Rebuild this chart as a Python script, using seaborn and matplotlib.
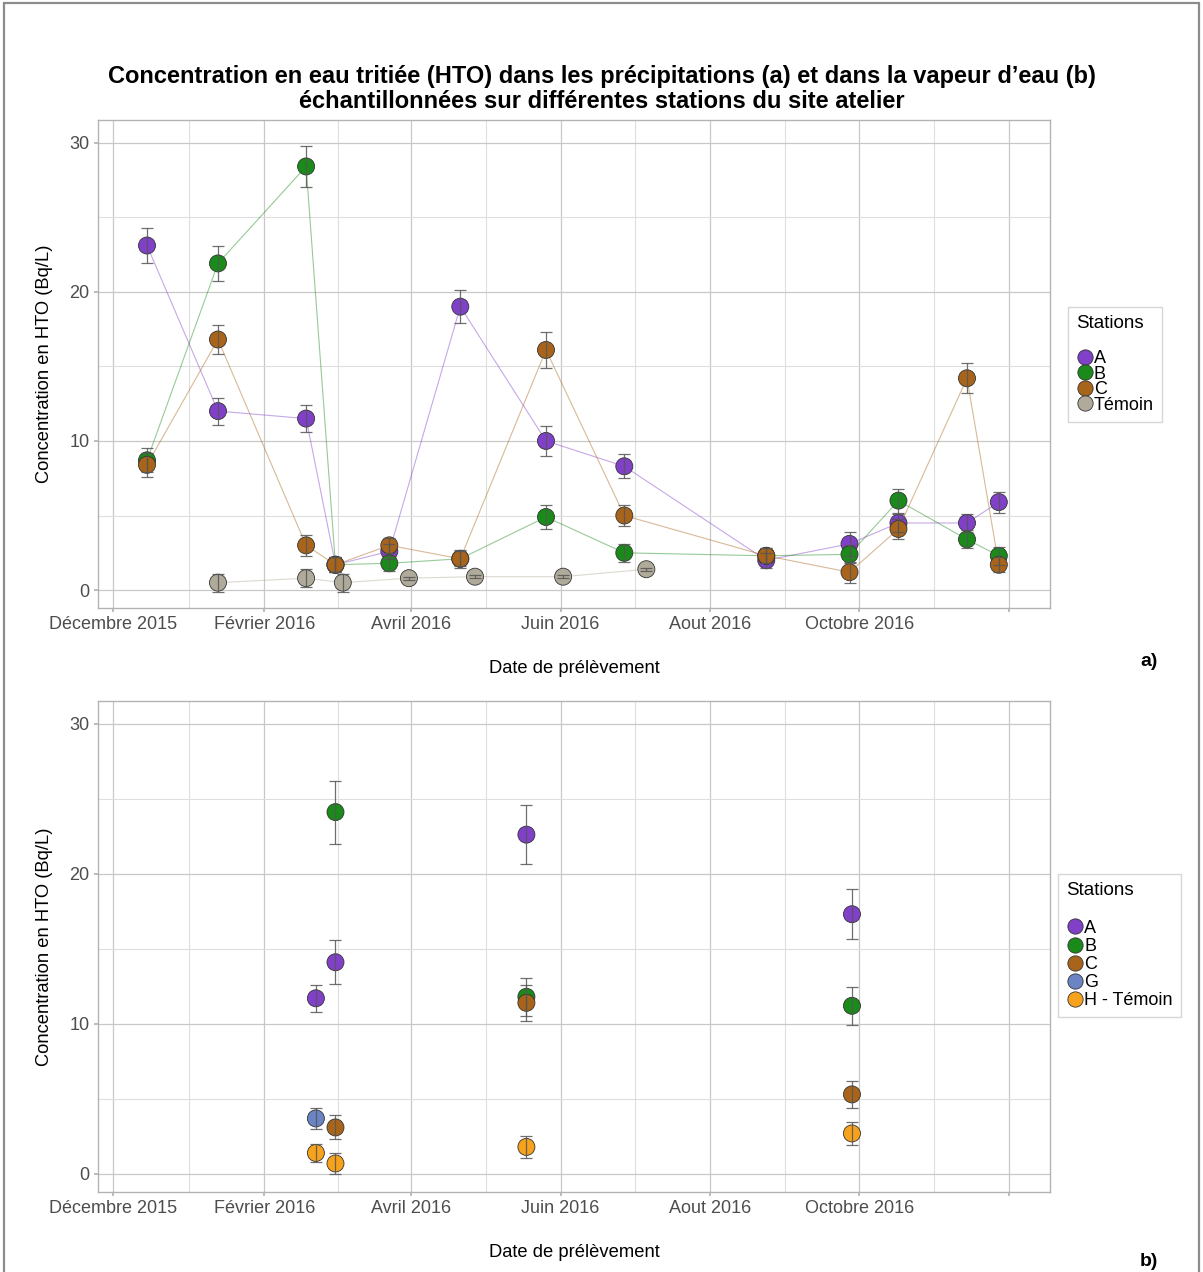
import pandas as pd
import seaborn as sns
import matplotlib.pyplot as plt
from matplotlib.patches import Rectangle

# --- données (a) précipitations ---
dates_a = ["2015-12-15", "2016-01-13", "2016-02-18", "2016-03-01", "2016-03-23",
           "2016-04-21", "2016-05-26", "2016-06-27", "2016-08-24", "2016-09-27",
           "2016-10-17", "2016-11-14", "2016-11-27"]
a_A = [23.1, 12.0, 11.5, 1.7, 2.6, 19.0, 10.0, 8.3, 2.0, 3.1, 4.5, 4.5, 5.9]
a_A_err = [1.2, 0.9, 0.9, 0.5, 0.5, 1.1, 1.0, 0.8, 0.5, 0.8, 0.6, 0.6, 0.7]
a_B = [8.7, 21.9, 28.4, 1.7, 1.8, 2.1, 4.9, 2.5, 2.3, 2.4, 6.0, 3.4, 2.3]
a_B_err = [0.8, 1.2, 1.4, 0.5, 0.5, 0.6, 0.8, 0.6, 0.5, 0.6, 0.8, 0.6, 0.6]
a_C = [8.4, 16.8, 3.0, 1.7, 3.0, 2.1, 16.1, 5.0, 2.3, 1.2, 4.1, 14.2, 1.7]
a_C_err = [0.8, 1.0, 0.7, 0.5, 0.5, 0.5, 1.2, 0.7, 0.5, 0.7, 0.7, 1.0, 0.5]
dates_t = ["2016-01-13", "2016-02-18", "2016-03-04", "2016-03-31", "2016-04-27",
           "2016-06-02", "2016-07-06"]
a_T = [0.5, 0.8, 0.5, 0.8, 0.9, 0.9, 1.4]
a_T_err = [0.6, 0.6, 0.6, 0.1, 0.1, 0.1, 0.1]

# --- données (b) vapeur d'eau ---
b_station = ["A", "A", "B", "G", "C", "H - Témoin", "H - Témoin",
             "A", "B", "C", "H - Témoin",
             "A", "B", "C", "H - Témoin"]
b_dates = ["2016-02-22", "2016-03-01", "2016-03-01", "2016-02-22", "2016-03-01", "2016-02-22", "2016-03-01",
           "2016-05-18", "2016-05-18", "2016-05-18", "2016-05-18",
           "2016-09-28", "2016-09-28", "2016-09-28", "2016-09-28"]
b_val = [11.7, 14.1, 24.1, 3.7, 3.1, 1.4, 0.7,
         22.6, 11.8, 11.4, 1.8,
         17.3, 11.2, 5.3, 2.7]
b_err = [0.9, 1.45, 2.1, 0.7, 0.8, 0.6, 0.7,
         1.95, 1.25, 1.2, 0.75,
         1.65, 1.25, 0.9, 0.75]

tick_dates = ["2015-12-01", "2016-02-01", "2016-04-01", "2016-06-01", "2016-08-01", "2016-10-01", "2016-12-01"]
tick_labels = ["Décembre 2015", "Février 2016", "Avril 2016", "Juin 2016", "Aout 2016", "Octobre 2016", ""]

couleurs = {"A": "#8040c8", "B": "#1a8a1a", "C": "#a8641a", "Témoin": "#b0aa9a",
            "G": "#6a84c4", "H - Témoin": "#f6a21c"}

# tables
rows = []
for st, vals, errs in [("A", a_A, a_A_err), ("B", a_B, a_B_err), ("C", a_C, a_C_err)]:
    for d, v, e in zip(dates_a, vals, errs):
        rows.append({"date": d, "station": st, "val": v, "err": e})
for d, v, e in zip(dates_t, a_T, a_T_err):
    rows.append({"date": d, "station": "Témoin", "val": v, "err": e})
df_a = pd.DataFrame(rows)
df_a["date"] = pd.to_datetime(df_a["date"])

df_b = pd.DataFrame({"date": pd.to_datetime(b_dates), "station": b_station, "val": b_val, "err": b_err})

sns.set_theme(style="white")
plt.rcParams["font.family"] = ["Liberation Sans", "DejaVu Sans"]

fig = plt.figure(figsize=(12.03, 12.72), dpi=100)
ax1 = fig.add_axes([0.0815, 0.522, 0.7915, 0.3835])
ax2 = fig.add_axes([0.0815, 0.0629, 0.7915, 0.386])

ordre_a = ["A", "B", "C", "Témoin"]
ordre_b = ["A", "B", "C", "G", "H - Témoin"]

# lignes (a)
for st in ordre_a:
    sub = df_a[df_a.station == st].sort_values("date")
    sns.lineplot(data=sub, x="date", y="val", ax=ax1, color=couleurs[st], alpha=0.45,
                 lw=0.8, estimator=None, sort=False, zorder=2)


def dessine(ax, df, ordre):
    sns.scatterplot(data=df, x="date", y="val", hue="station", hue_order=ordre,
                    palette=couleurs, s=150, edgecolor="#333333", linewidth=0.6,
                    ax=ax, zorder=3, legend=False)
    ax.errorbar(df["date"], df["val"], yerr=df["err"], fmt="none", ecolor="#555555",
                elinewidth=0.9, capsize=4, capthick=0.9, alpha=0.85, zorder=4)


dessine(ax1, df_a, ordre_a)
dessine(ax2, df_b, ordre_b)

xmin = pd.Timestamp("2015-11-25")
xmax = pd.Timestamp("2016-12-18")
majors = pd.to_datetime(tick_dates)
minors = [majors[i] + (majors[i + 1] - majors[i]) / 2 for i in range(len(majors) - 1)]

for ax in (ax1, ax2):
    ax.set_xlim(xmin, xmax)
    ax.set_ylim(-1.2, 31.5)
    ax.set_xticks(majors)
    ax.set_xticklabels(tick_labels)
    ax.set_xticks(minors, minor=True)
    ax.set_yticks([0, 10, 20, 30])
    ax.set_yticks([5, 15, 25], minor=True)
    ax.grid(which="major", color="#c8c8c8", lw=0.9)
    ax.grid(which="minor", color="#dedede", lw=0.8)
    ax.set_axisbelow(True)
    for sp in ax.spines.values():
        sp.set_color("#b3b3b3")
        sp.set_linewidth(1.0)
    ax.tick_params(axis="both", which="major", length=3, color="#b3b3b3",
                   labelsize=13, labelcolor="#4d4d4d", pad=3, bottom=True, left=True)
    ax.tick_params(which="minor", length=0)
    ax.set_xlabel("Date de prélèvement", fontsize=13.2, color="black", labelpad=19)
    ax.set_ylabel("Concentration en HTO (Bq/L)", fontsize=13.2, color="black", labelpad=12)


def legende(ordre, anchor, espace):
    handles = [plt.Line2D([], [], marker="o", ls="", markersize=11,
                          markerfacecolor=couleurs[s], markeredgecolor="#333333",
                          markeredgewidth=0.6) for s in ordre]
    leg = fig.legend(handles, ordre, title="Stations\n", loc="upper left",
                     bbox_to_anchor=anchor, frameon=True, fancybox=False,
                     fontsize=13, title_fontsize=13.5, handletextpad=0.0,
                     labelspacing=espace, borderpad=0.45, handlelength=1.0,
                     alignment="left")
    leg.get_title().set_color("black")
    for t in leg.get_texts():
        t.set_color("black")
    leg.get_frame().set_edgecolor("#cccccc")
    leg.get_frame().set_linewidth(1.0)
    return leg


legende(ordre_a, (0.880, 0.766), -0.08)
legende(ordre_b, (0.872, 0.320), 0.06)

fig.text(0.5, 0.9395, "Concentration en eau tritiée (HTO) dans les précipitations (a) et dans la vapeur d’eau (b)",
         ha="center", va="center", fontsize=17, fontweight="bold", color="black")
fig.text(0.5, 0.9205, "échantillonnées sur différentes stations du site atelier",
         ha="center", va="center", fontsize=17, fontweight="bold", color="black")
fig.text(0.955, 0.48, "a)", ha="center", va="center", fontsize=14, fontweight="bold", color="black")
fig.text(0.955, 0.008, "b)", ha="center", va="center", fontsize=14, fontweight="bold", color="black")

fig.patches.append(Rectangle((0.003, -0.01), 0.994, 1.008, transform=fig.transFigure,
                             fill=False, edgecolor="#8c8c8c", lw=1.6))

fig.savefig("out.png", dpi=100)
